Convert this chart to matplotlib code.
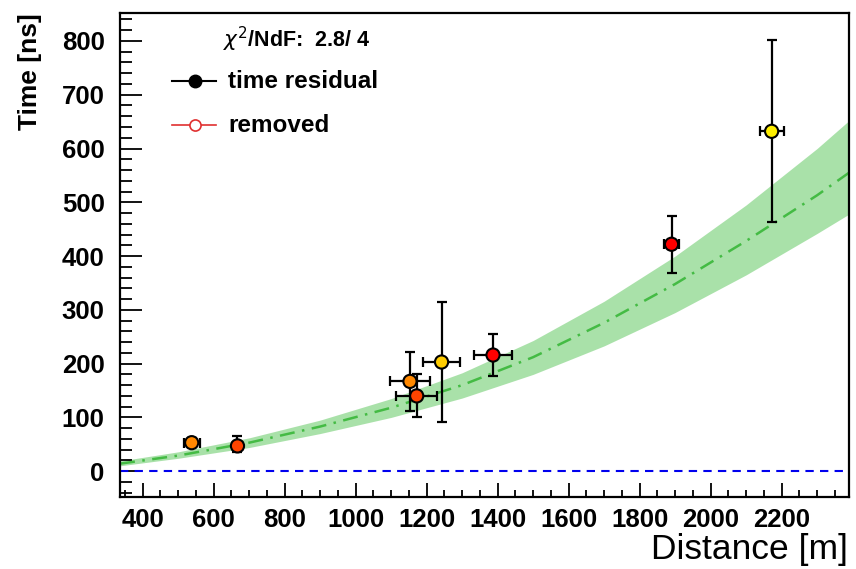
import matplotlib
matplotlib.use("Agg")
import matplotlib.pyplot as plt
from matplotlib.ticker import MultipleLocator
from matplotlib.lines import Line2D

plt.rcParams['font.family'] = ['Liberation Sans', 'DejaVu Sans']

# station residuals
dist = [538, 667, 1153, 1172, 1242, 1387, 1890, 2172]
time = [53, 47, 167, 140, 203, 216, 422, 632]
dist_err = [22, 14, 56, 58, 52, 53, 20, 34]
time_err_lo = [8, 12, 56, 39, 111, 39, 53, 169]
time_err_hi = [8, 18, 55, 40, 111, 39, 52, 169]
colors = ['#ff8800', '#ff4400', '#ff8800', '#ff4400', '#ffcc00', '#ff0000', '#ff0000', '#ffee00']

# fit curve and band
fit_x = [336, 500, 700, 900, 1100, 1300, 1500, 1700, 1900, 2100, 2300, 2390]
fit_mid = [14, 29, 53, 83, 118, 160, 212, 276, 348, 428, 513, 555]
fit_hi = [19, 36, 62, 95, 135, 183, 243, 316, 400, 495, 600, 652]
fit_lo = [10, 24, 44, 70, 100, 136, 180, 233, 295, 365, 442, 478]

fig = plt.figure(figsize=(8.56, 5.69), dpi=100)
ax = fig.add_axes([120/856, 1-497/569, 729/856, 484/569])

ax.fill_between(fit_x, fit_lo, fit_hi, color='#55c455', alpha=0.5, lw=0, zorder=1)
ax.plot(fit_x, fit_mid, color='#44bb44', lw=1.8, ls=(0, (6, 3, 1, 3)), zorder=2)
ax.axhline(0, color='#0000ee', lw=1.5, ls=(0, (4, 3)), zorder=2)

ax.errorbar(dist, time, xerr=dist_err, yerr=[time_err_lo, time_err_hi], fmt='none',
            ecolor='black', elinewidth=1.6, capsize=3.5, capthick=1.6, zorder=3)
ax.scatter(dist, time, c=colors, s=90, marker='o', edgecolors='black', linewidths=1.5, zorder=4)

ax.set_xlim(336, 2390)
ax.set_ylim(-48, 852)
ax.xaxis.set_major_locator(MultipleLocator(200))
ax.xaxis.set_minor_locator(MultipleLocator(50))
ax.yaxis.set_major_locator(MultipleLocator(100))
ax.yaxis.set_minor_locator(MultipleLocator(20))
ax.set_xticks([400, 600, 800, 1000, 1200, 1400, 1600, 1800, 2000, 2200])

ax.tick_params(axis='x', which='major', direction='in', length=10, width=1.3, pad=8,
               labelsize=18.5)
ax.tick_params(axis='x', which='minor', direction='in', length=5, width=1.3)
ax.tick_params(axis='y', which='major', direction='in', length=16, width=1.3, pad=11,
               labelsize=18.5)
ax.tick_params(axis='y', which='minor', direction='in', length=8.5, width=1.3)
for lab in ax.get_xticklabels() + ax.get_yticklabels():
    lab.set_fontweight('bold')
for s in ax.spines.values():
    s.set_linewidth(1.6)

fig.text(848/856, 1-559/569, 'Distance [m]', ha='right', va='baseline', fontsize=25.5)
fig.text(30/856, 1-13/569, 'Time [ns]', ha='center', va='top', rotation=90,
         fontsize=19, fontweight='bold')

# legend box drawn by hand
fig.text(223/856, 1-39/569, r'$\chi^2$/NdF:  2.8/ 4', ha='left', va='center',
         fontsize=15.5, fontweight='bold')
fig.add_artist(Line2D([172/856, 216/856], [1-81/569, 1-81/569], color='black', lw=1.5))
fig.add_artist(Line2D([195/856], [1-81/569], color='black', marker='o', markersize=9))
fig.text(228/856, 1-81/569, 'time residual', ha='left', va='center', fontsize=17.5,
         fontweight='bold')
fig.add_artist(Line2D([172/856, 216/856], [1-125/569, 1-125/569], color='#e03030', lw=1.2))
fig.add_artist(Line2D([195/856], [1-125/569], color='#e03030', marker='o', markersize=8,
                      markerfacecolor='white', markeredgewidth=1.2))
fig.text(228/856, 1-125/569, 'removed', ha='left', va='center', fontsize=17.5,
         fontweight='bold')

fig.savefig('out.png', dpi=100)
